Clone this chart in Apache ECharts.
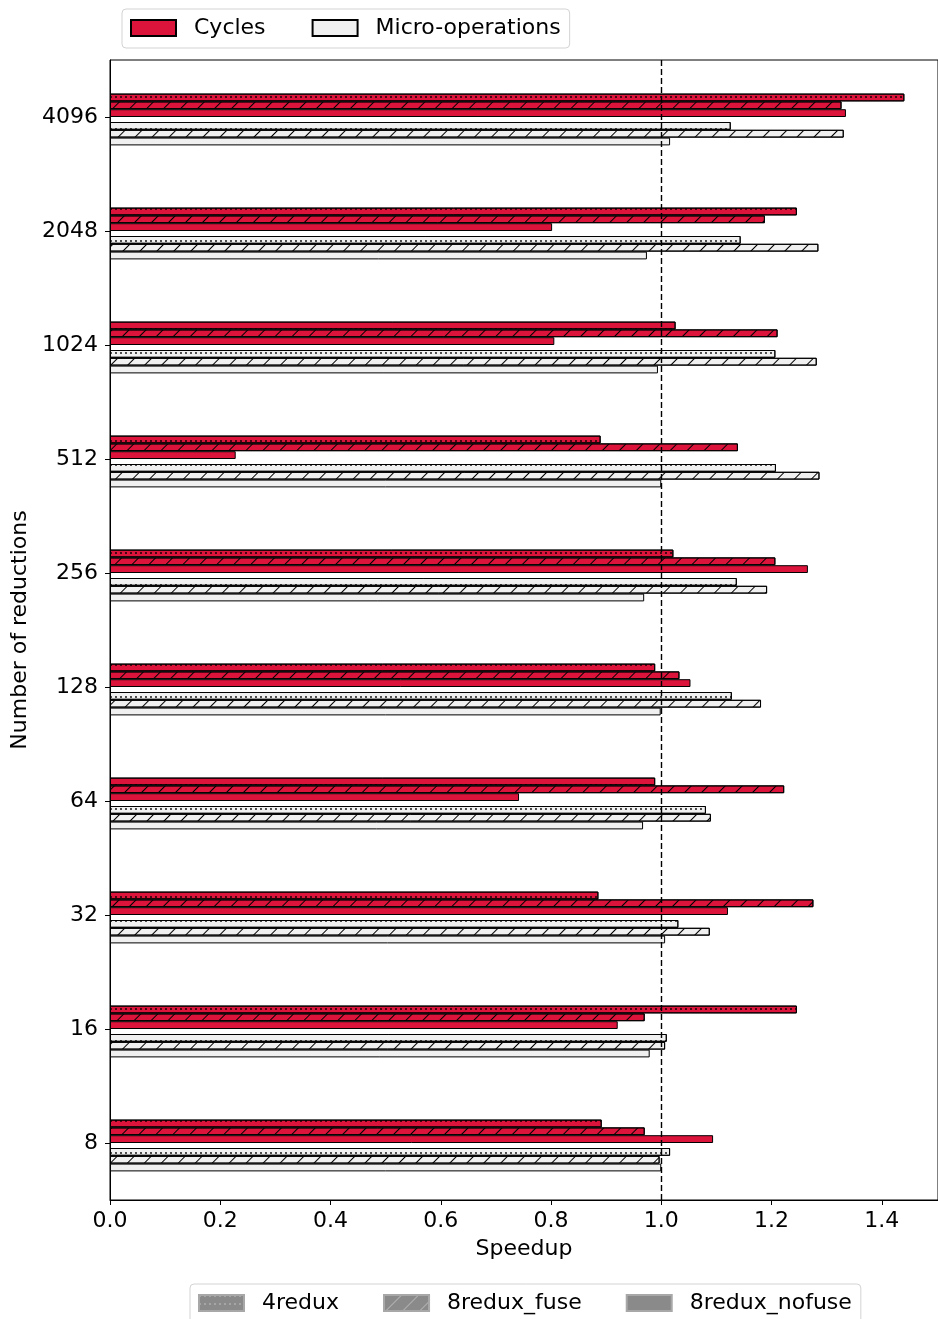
<!DOCTYPE html>
<html>
<head>
<meta charset="utf-8">
<script src="https://cdn.jsdelivr.net/npm/echarts@6/dist/echarts.min.js"></script>
<style>
  html, body { margin: 0; padding: 0; background: #fff; }
  #chart { width: 938px; height: 1319px; }
</style>
</head>
<body>
<div id="chart"></div>
<script>
// categories, bottom to top
var categories = ['8', '16', '32', '64', '128', '256', '512', '1024', '2048', '4096'];
var xTicks = [0, 0.2, 0.4, 0.6, 0.8, 1.0, 1.2, 1.4];

// speedup values per category
var cycles4redux   = [0.892, 1.246, 0.886, 0.989, 0.989, 1.022, 0.890, 1.026, 1.246, 1.441];
var cycles8fuse    = [0.970, 0.970, 1.276, 1.223, 1.033, 1.207, 1.139, 1.211, 1.188, 1.327];
var cycles8nofuse  = [1.094, 0.921, 1.121, 0.742, 1.053, 1.266, 0.228, 0.806, 0.802, 1.335];
var uops4redux     = [1.016, 1.010, 1.031, 1.081, 1.128, 1.137, 1.208, 1.207, 1.144, 1.126];
var uops8fuse      = [0.997, 1.007, 1.088, 1.090, 1.181, 1.192, 1.287, 1.282, 1.285, 1.331];
var uops8nofuse    = [1.000, 0.979, 1.007, 0.967, 0.999, 0.969, 1.000, 0.994, 0.974, 1.016];

var RED = '#DC143C';
var LIGHT = '#F0F0F0';
var FONT = 'DejaVu Sans';
var BARW = 7.8;

function dots(color) {
  return { symbol: 'circle', symbolSize: 0.9, dashArrayX: [2, 3], dashArrayY: [2, 6], color: color };
}
function slashes(color) {
  return { symbol: 'rect', symbolSize: 1, dashArrayX: [1, 0], dashArrayY: [1, 11], rotation: -Math.PI / 4, color: color };
}

function bar(name, data, fill, decal) {
  var s = {
    name: name,
    type: 'bar',
    data: data,
    barWidth: BARW,
    barGap: '0%',
    itemStyle: { color: fill, borderColor: '#000', borderWidth: 1 }
  };
  if (decal) s.itemStyle.decal = decal;
  return s;
}
// empty bar series only used to leave room between the groups
function spacer(w) {
  return { name: 'spacer' + w, type: 'bar', data: [], barWidth: w, barGap: '0%', silent: true };
}
// empty series on hidden axes, only feed the legends
function legendSeries(name, fill, border, decal) {
  var s = {
    name: name, type: 'bar', xAxisIndex: 1, yAxisIndex: 1, data: [],
    itemStyle: { color: fill, borderColor: border, borderWidth: 1 }
  };
  if (decal) s.itemStyle.decal = decal;
  return s;
}

var series = [
  spacer(5),
  bar('c4', cycles4redux, RED, dots('#000')),
  bar('c8f', cycles8fuse, RED, slashes('#000')),
  bar('c8n', cycles8nofuse, RED, null),
  spacer(5),
  bar('u4', uops4redux, LIGHT, dots('#000')),
  bar('u8f', uops8fuse, LIGHT, slashes('#000')),
  bar('u8n', uops8nofuse, LIGHT, null),
  legendSeries('Cycles', RED, '#000', null),
  legendSeries('Micro-operations', LIGHT, '#000', null),
  legendSeries('4redux', '#8a8a8a', '#a8a8a8', dots('rgba(255,255,255,0.35)')),
  legendSeries('8redux_fuse', '#8a8a8a', '#a8a8a8', slashes('rgba(255,255,255,0.35)')),
  legendSeries('8redux_nofuse', '#8a8a8a', '#a8a8a8', null)
];

series[1].markLine = {
  silent: true,
  symbol: 'none',
  label: { show: false },
  lineStyle: { color: '#000', type: [6, 3], width: 1.4 },
  data: [{ xAxis: 1 }],
  z: 10
};

var legendCommon = {
  orient: 'horizontal',
  icon: 'rect',
  itemWidth: 45,
  itemHeight: 16,
  itemGap: 46,
  selectedMode: false,
  borderColor: '#d3d3d3',
  borderWidth: 1,
  borderRadius: 4,
  padding: [8, 9, 9, 8],
  textStyle: { fontFamily: FONT, fontSize: 22, color: '#000', padding: [0, 0, 0, 13] }
};

var option = {
  animation: false,
  backgroundColor: '#fff',
  legend: [
    Object.assign({}, legendCommon, { data: ['Cycles', 'Micro-operations'], left: 122, top: 9 }),
    Object.assign({}, legendCommon, { data: ['4redux', '8redux_fuse', '8redux_nofuse'], left: 190, top: 1284, itemGap: 44 })
  ],
  grid: {
    left: 110, right: 0, top: 60, bottom: 119,
    show: true, borderColor: '#000', borderWidth: 1, backgroundColor: 'transparent'
  },
  xAxis: [{
    type: 'value',
    min: 0,
    max: 1.502,
    name: 'Speedup',
    nameLocation: 'middle',
    nameGap: 38,
    nameTextStyle: { fontFamily: FONT, fontSize: 22, color: '#000' },
    axisLine: { show: true, lineStyle: { color: '#000', width: 1 } },
    axisTick: { show: true, length: 5, lineStyle: { color: '#000' }, customValues: xTicks },
    splitLine: { show: false },
    axisLabel: {
      fontFamily: FONT, fontSize: 22, color: '#000', margin: 10,
      customValues: xTicks,
      formatter: function (v) { return v.toFixed(1); }
    }
  }, {
    type: 'value', show: false, min: 0, max: 1
  }],
  yAxis: [{
    type: 'category',
    data: categories,
    name: 'Number of reductions',
    nameLocation: 'middle',
    nameRotate: 90,
    nameGap: 75,
    nameTextStyle: { fontFamily: FONT, fontSize: 22, color: '#000' },
    axisLine: { show: true, lineStyle: { color: '#000', width: 1 } },
    axisTick: { show: true, alignWithLabel: true, length: 5, lineStyle: { color: '#000' } },
    axisLabel: { fontFamily: FONT, fontSize: 22, color: '#000', margin: 12 },
    splitLine: { show: false }
  }, {
    type: 'category', show: false, data: ['x']
  }],
  series: series
};

var chart = echarts.init(document.getElementById('chart'), null, { renderer: 'canvas' });
chart.setOption(option);
</script>
</body>
</html>
